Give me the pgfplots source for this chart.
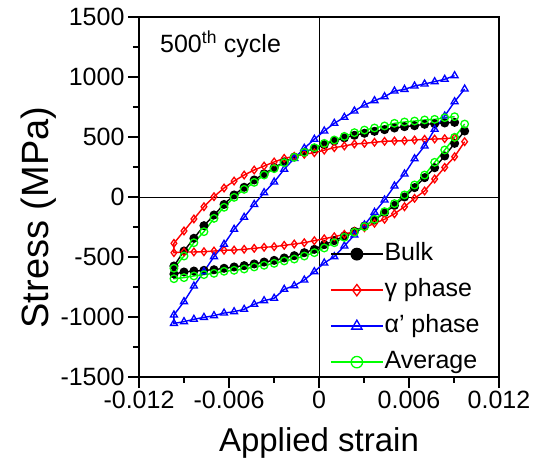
\documentclass[border=0pt]{standalone}
\usepackage{fontspec}
\setmainfont{Liberation Sans}
\usepackage{pgfplots}
\usepackage{pgfplotstable}
\pgfplotsset{compat=1.18}
\definecolor{cred}{RGB}{255,0,0}
\definecolor{cblue}{RGB}{0,0,255}
\definecolor{cgreen}{RGB}{0,255,0}
\pgfplotstableread{
x bulk gamma alpha avg
0.00971 550 461 900 608
0.00904 447 336 794 497
0.00838 342 247 675 392
0.00771 244 150 564 289
0.00704 161 50 425 183
0.00637 78 -11 319 100
0.00570 0 -81 192 17
0.00503 -70 -140 92 -55
0.00437 -131 -186 -25 -122
0.00370 -192 -219 -128 -186
0.00303 -242 -256 -233 -247
0.00236 -286 -286 -317 -294
0.00169 -325 -311 -408 -336
0.00102 -364 -331 -497 -381
0.00035 -397 -348 -550 -425
-0.00031 -436 -364 -622 -464
-0.00098 -464 -381 -692 -492
-0.00165 -489 -392 -739 -517
-0.00232 -508 -403 -769 -533
-0.00299 -528 -414 -844 -553
-0.00366 -542 -419 -864 -569
-0.00432 -558 -428 -894 -583
-0.00499 -572 -436 -936 -600
-0.00566 -583 -442 -956 -611
-0.00633 -594 -444 -967 -619
-0.00700 -606 -450 -989 -636
-0.00767 -611 -456 -1003 -647
-0.00834 -617 -458 -1019 -658
-0.00900 -625 -458 -1039 -672
-0.00967 -642 -464 -1053 -681
-0.00967 -575 -386 -983 -594
-0.00900 -450 -283 -872 -492
-0.00834 -344 -183 -742 -381
-0.00767 -239 -81 -622 -289
-0.00700 -150 3 -497 -178
-0.00633 -62 75 -394 -86
-0.00566 17 133 -269 -3
-0.00499 81 183 -169 64
-0.00432 142 225 -62 122
-0.00366 194 258 36 183
-0.00299 244 292 125 236
-0.00232 292 322 231 286
-0.00165 333 339 322 331
-0.00098 372 356 406 372
-0.00031 406 369 481 411
0.00035 436 390 550 447
0.00102 467 411 614 475
0.00169 492 425 664 505
0.00236 514 442 717 536
0.00303 531 447 767 558
0.00370 547 456 803 575
0.00437 561 464 836 592
0.00503 575 467 883 614
0.00570 586 469 897 625
0.00637 594 475 925 633
0.00704 606 481 942 642
0.00771 611 483 961 647
0.00838 617 486 981 661
0.00904 622 494 1011 669
}\datatable
\begin{document}
\begin{tikzpicture}
\useasboundingbox (-139pt,-85pt) rectangle (396pt,377pt);
\begin{axis}[
  scale only axis, width=360pt, height=360pt,
  xmin=-0.012, xmax=0.012, ymin=-1500, ymax=1500,
  xtick={-0.012,-0.006,0,0.006,0.012},
  xticklabels={-0.012,-0.006,0,0.006,0.012},
  ytick={-1500,-1000,-500,0,500,1000,1500},
  yticklabels={-1500,-1000,-500,0,500,1000,1500},
  scaled x ticks=false, scaled y ticks=false,
  minor x tick num=1, minor y tick num=1,
  xtick pos=bottom, ytick pos=left,
  tick align=outside,
  major tick length=11pt, minor tick length=6pt,
  every tick/.style={black, line width=1.8pt},
  axis line style={line width=1.8pt},
  tick label style={font=\fontsize{25}{30}\selectfont},
  xlabel={Applied strain},
  ylabel={Stress (MPa)},
  xlabel style={font=\fontsize{33}{38}\selectfont, at={(axis description cs:0.5,0)}, anchor=base, yshift=-75pt},
  ylabel style={font=\fontsize{38}{44}\selectfont, at={(axis description cs:-0.28,0.443)}, anchor=center},
  legend style={at={(axis description cs:0.531,0.376)}, anchor=north west, draw=none, fill=none,
    inner sep=0pt, outer sep=0pt, font=\fontsize{25}{30}\selectfont,
    row sep=11pt, nodes={inner sep=1pt, text height=18pt, text depth=5pt},
    /tikz/every even column/.append style={column sep=6pt}},
  legend cell align=left,
  legend image code/.code={\draw[mark repeat=2,mark phase=2,#1,every mark/.append style={scale=1.5}] plot coordinates {(0pt,0pt)(26pt,0pt)(52pt,0pt)};},
  clip=false,
]
\draw[line width=0.9pt] (axis cs:0,-1500) -- (axis cs:0,1500);
\draw[line width=0.9pt] (axis cs:-0.012,0) -- (axis cs:0.012,0);
\addplot[black, line width=1.4pt, mark=*, mark size=3.8pt] table[x=x, y=bulk] {\datatable};
\addlegendentry{Bulk}
\addplot[cred, line width=1.4pt, mark=diamond, mark size=3.8pt, mark options={line width=1.3pt}] table[x=x, y=gamma] {\datatable};
\addlegendentry{γ phase}
\addplot[cblue, line width=1.4pt, mark=triangle, mark size=4pt, mark options={line width=1.3pt}] table[x=x, y=alpha] {\datatable};
\addlegendentry{α' phase}
\addplot[cgreen, line width=1.4pt, mark=o, mark size=3.8pt, mark options={line width=1.3pt}] table[x=x, y=avg] {\datatable};
\addlegendentry{Average}
\node[anchor=base west, inner sep=0pt, font=\fontsize{25}{30}\selectfont] at (axis cs:-0.0106,1200) {500\textsuperscript{th} cycle};
\end{axis}
\end{tikzpicture}
\end{document}
